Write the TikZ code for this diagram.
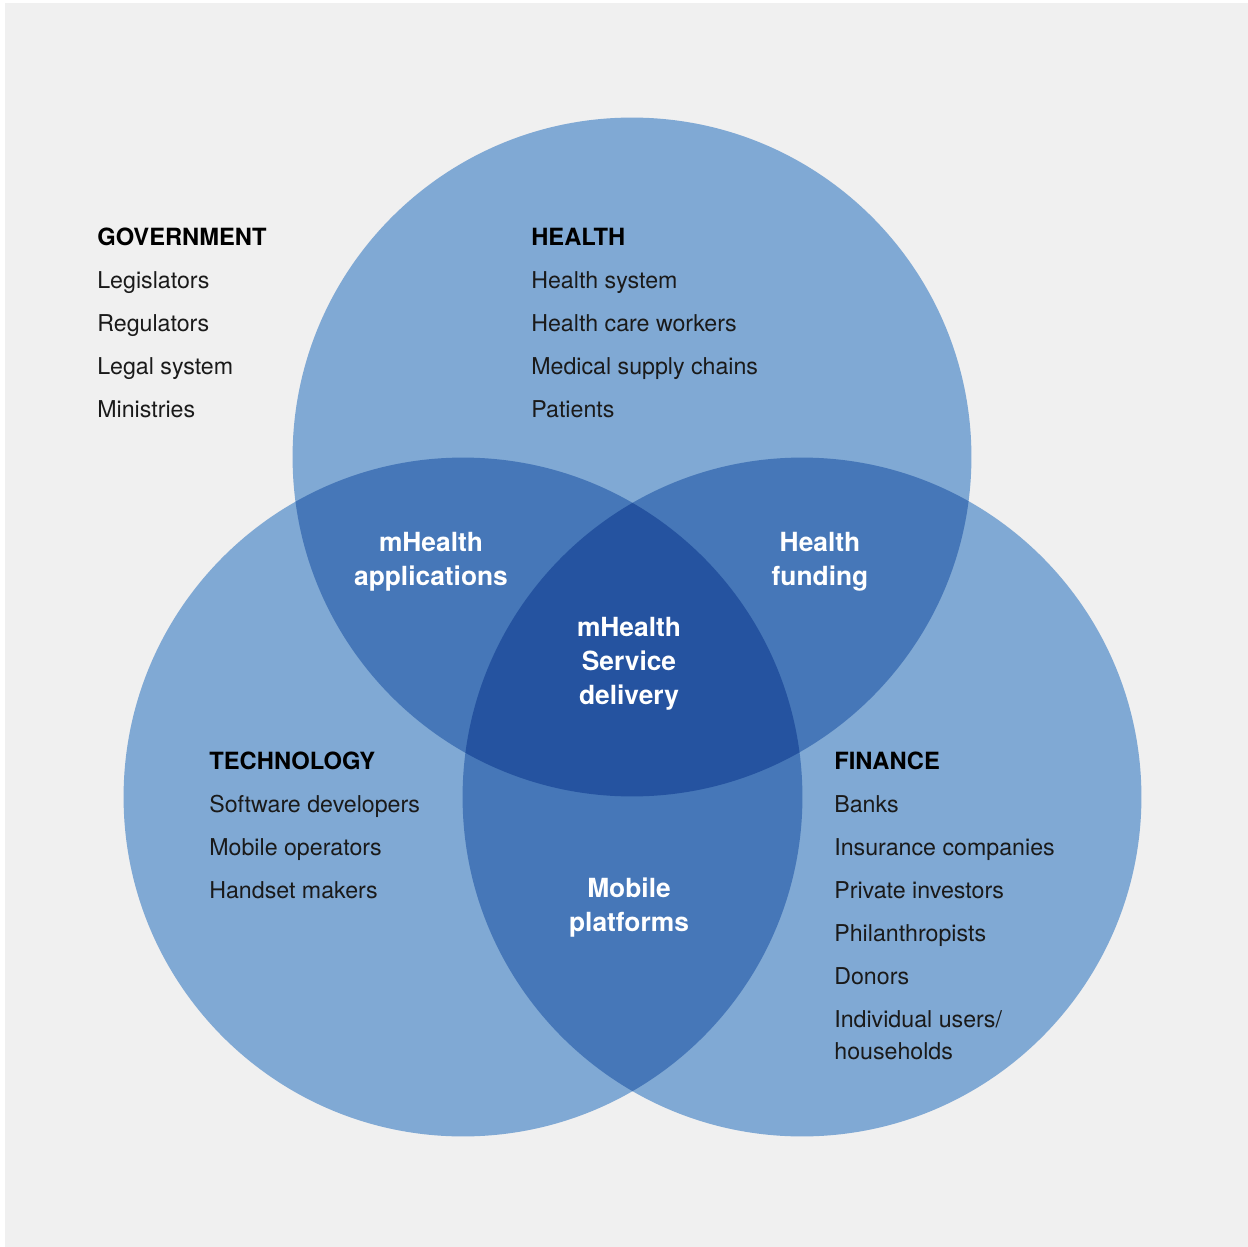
\documentclass[tikz,border=0pt]{standalone}
\usepackage{fontspec}
\setmainfont{TeX Gyre Heros}
\usepackage{tikz}
\pgfdeclarelayer{bglayer}
\pgfdeclarelayer{circlelayer}
\pgfdeclarelayer{textlayer}
\pgfsetlayers{bglayer,circlelayer,main,textlayer}
\definecolor{bggrey}{HTML}{F0F0F0}
\definecolor{vlight}{HTML}{80A9D4}
\definecolor{vmid}{HTML}{4677B8}
\definecolor{vdark}{HTML}{2553A0}
\definecolor{itemtext}{HTML}{1A1A1A}
\tikzstyle{head}=[anchor=base west, inner sep=0pt, font=\fontsize{13.5}{16}\selectfont\bfseries, text=black]
\tikzstyle{item}=[anchor=base west, inner sep=0pt, align=left, font=\fontsize{13.2}{18.1}\selectfont, text=itemtext]
\tikzstyle{overlap}=[anchor=base, inner sep=0pt, align=center, font=\fontsize{15}{19.3}\selectfont\bfseries, text=white]
\def\vrad{6.79cm}

\begin{document}
\begin{tikzpicture}[x=0.02cm, y=-0.02cm]
            \useasboundingbox (0, 0) rectangle (1248, 1247);
            \begin{pgfonlayer}{bglayer}
                \fill [white] (0, 0) rectangle (1248, 1247);
                \fill [bggrey] (5, 3) rectangle (1248, 1247);
            \end{pgfonlayer}
            \coordinate (health) at (632, 457);
            \coordinate (tech) at (463, 797);
            \coordinate (finance) at (802, 797);
            \begin{pgfonlayer}{circlelayer}
                \fill [vlight] (health) circle (\vrad);
                \fill [vlight] (tech) circle (\vrad);
                \fill [vlight] (finance) circle (\vrad);
                \begin{scope}
                    \clip (health) circle (\vrad);
                    \fill [vmid] (tech) circle (\vrad);
                    \fill [vmid] (finance) circle (\vrad);
                \end{scope}
                \begin{scope}
                    \clip (tech) circle (\vrad);
                    \fill [vmid] (finance) circle (\vrad);
                \end{scope}
                \begin{scope}
                    \clip (health) circle (\vrad);
                    \clip (tech) circle (\vrad);
                    \fill [vdark] (finance) circle (\vrad);
                \end{scope}
            \end{pgfonlayer}
            \begin{pgfonlayer}{textlayer}
                % government
                \node [style=head] (gov) at (97, 245) {GOVERNMENT};
                \node [style=item] (gov1) at (97, 288) {Legislators};
                \node [style=item] (gov2) at (97, 331) {Regulators};
                \node [style=item] (gov3) at (97, 374) {Legal system};
                \node [style=item] (gov4) at (97, 417) {Ministries};
                % health
                \node [style=head] (hea) at (531, 245) {HEALTH};
                \node [style=item] (hea1) at (531, 288) {Health system};
                \node [style=item] (hea2) at (531, 331) {Health care workers};
                \node [style=item] (hea3) at (531, 374) {Medical supply chains};
                \node [style=item] (hea4) at (531, 417) {Patients};
                % technology
                \node [style=head] (tec) at (209, 769) {TECHNOLOGY};
                \node [style=item] (tec1) at (209, 812) {Software developers};
                \node [style=item] (tec2) at (209, 855) {Mobile operators};
                \node [style=item] (tec3) at (209, 898) {Handset makers};
                % finance
                \node [style=head] (fin) at (834, 769) {FINANCE};
                \node [style=item] (fin1) at (834, 812) {Banks};
                \node [style=item] (fin2) at (834, 855) {Insurance companies};
                \node [style=item] (fin3) at (834, 898) {Private investors};
                \node [style=item] (fin4) at (834, 941) {Philanthropists};
                \node [style=item] (fin5) at (834, 984) {Donors};
                \node [style=item] (fin6) at (834, 1059) {Individual users/\\households};
                % overlaps
                \node [style=overlap] (apps) at (431, 585) {mHealth\\applications};
                \node [style=overlap] (funding) at (820, 585) {Health\\funding};
                \node [style=overlap] (delivery) at (629, 704) {mHealth\\Service\\delivery};
                \node [style=overlap] (platforms) at (629, 931) {Mobile\\platforms};
            \end{pgfonlayer}
        \end{tikzpicture}
\end{document}
